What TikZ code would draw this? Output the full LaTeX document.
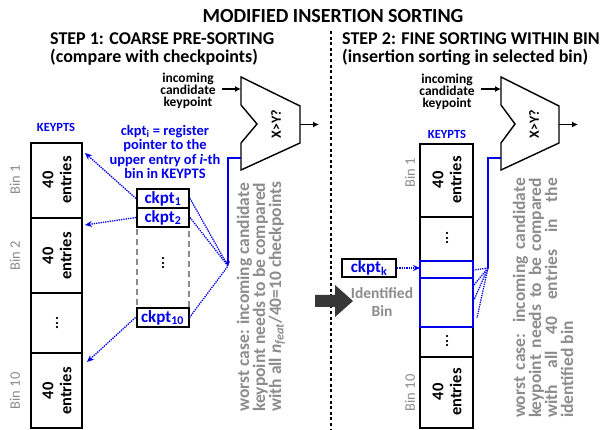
\documentclass[tikz,border=0pt]{standalone}
\usepackage{fontspec}
\setmainfont{Carlito}
\usetikzlibrary{arrows.meta}
\definecolor{myblue}{RGB}{0,0,235}
\definecolor{mygray}{RGB}{140,140,140}
\definecolor{darkarrow}{RGB}{55,55,55}
\tikzset{
  binbox/.style={line width=2.2pt, draw=black},
  comp/.style={line width=1.4pt, draw=black, line join=miter},
  inctext/.style={font=\bfseries\fontsize{13.5}{12.2}\selectfont, align=center},
  entrytext/.style={font=\bfseries\fontsize{16.5}{18}\selectfont, align=center, rotate=90},
  binlabel/.style={font=\fontsize{14.5}{15}\selectfont, text=mygray, rotate=90},
  keypts/.style={font=\bfseries\fontsize{12.5}{13}\selectfont, text=myblue},
  ckptbox/.style={draw=black, line width=2pt, minimum width=52pt, minimum height=19pt, inner sep=0pt, text=myblue, font=\bfseries\fontsize{17}{17}\selectfont},
  bluedot/.style={myblue, line width=1.3pt, densely dotted},
  bluearr/.style={myblue, line width=1.3pt, densely dotted, -{Stealth[length=7pt,width=6pt]}},
  outarrow/.style={line width=1.4pt, -{Latex[length=6pt,width=6pt]}},
  worst/.style={font=\bfseries\fontsize{17.5}{16}\selectfont, text=mygray, rotate=90},
  cmptext/.style={rotate=90, font=\bfseries\fontsize{14}{14}\selectfont},
}
\begin{document}
\begin{tikzpicture}[x=1pt,y=-1pt]
\useasboundingbox (0,0) rectangle (606,430);

% titles
\node[anchor=base, font=\bfseries\fontsize{20}{22}\selectfont] (title) at (333,23) {MODIFIED INSERTION SORTING};
\node[anchor=base west, font=\bfseries\fontsize{18}{20}\selectfont, inner sep=0pt] (s1a) at (50,45) {STEP 1: COARSE PRE-SORTING};
\node[anchor=base west, font=\bfseries\fontsize{18}{20}\selectfont, inner sep=0pt] (s1b) at (50,63) {(compare with checkpoints)};
\node[anchor=base west, font=\bfseries\fontsize{18}{20}\selectfont, inner sep=0pt] (s2a) at (342,45) {STEP 2: FINE SORTING WITHIN BIN};
\node[anchor=base west, font=\bfseries\fontsize{18}{20}\selectfont, inner sep=0pt] (s2b) at (342,63) {(insertion sorting in selected bin)};

% divider
\coordinate (divT) at (331,31);
\coordinate (divB) at (331,430);
\draw[line width=2.2pt, dash pattern=on 3pt off 2.6pt] (divT) -- (divB);

% ---------- LEFT ----------
\draw[comp] (241,77) -- (300,106) -- (300,143) -- (241,170) -- (241,143) -- (257,124) -- (241,105) -- cycle;
\node[cmptext] (xyL) at (276,124) {X>Y?};
\coordinate (cLin) at (241,89);
\coordinate (cLout) at (300,124.5);
\coordinate (cLoutE) at (319,124.5);
\coordinate (cLin2) at (241,158);
\coordinate (cLcorner) at (228,158);
\coordinate (cLhub) at (228,266);
\node[inctext] (incL) at (188,91) {incoming\\candidate\\keypoint};
\coordinate (incLE) at (222,89);
\draw[outarrow] (incLE) -- (cLin);
\draw[outarrow] (cLout) -- (cLoutE);

\node[keypts] (kpL) at (56,127) {KEYPTS};
\draw[binbox] (31,143) rectangle (82,428);
\draw[line width=2pt] (31,218) -- (82,218);
\draw[line width=2pt] (31,293) -- (82,293);
\draw[line width=2pt] (31,353) -- (82,353);
\node[entrytext] (eL1) at (57,180) {40\\entries};
\node[entrytext] (eL2) at (57,256) {40\\entries};
\node[entrytext, font=\bfseries\fontsize{15}{15}\selectfont] (eLd) at (57,323) {...};
\node[entrytext] (eL10) at (57,391) {40\\entries};
\node[binlabel] (bL1) at (15,180) {Bin 1};
\node[binlabel] (bL2) at (15,256) {Bin 2};
\node[binlabel] (bL10) at (15,391) {Bin 10};
\coordinate (tL1) at (85,153);
\coordinate (tL2) at (85,225);
\coordinate (tL10) at (87,362);

\draw[mygray, line width=1.2pt, dash pattern=on 6pt off 4pt] (137,189) rectangle (189,327);
\node[ckptbox] (k1) at (163,198.5) {ckpt\textsubscript{1}};
\node[ckptbox] (k2) at (163,217.5) {ckpt\textsubscript{2}};
\node[ckptbox] (k10) at (162.5,317.5) {ckpt\textsubscript{10}};
\node[rotate=90, font=\bfseries\fontsize{15}{15}\selectfont] (kd) at (163,263) {...};

\node[font=\bfseries\fontsize{14.5}{14.2}\selectfont, text=myblue, align=center] (note) at (165,152) {ckpt\textsubscript{i} = register\\pointer to the\\upper entry of \textit{i}-th\\bin in KEYPTS};

\draw[bluearr] (k1.west) -- (tL1);
\draw[bluearr] (k2.west) -- (tL2);
\draw[bluearr] (k10.west) -- (tL10);
\draw[myblue, line width=1.5pt, -{Stealth[length=5pt,width=4pt]}] (cLin2) -- (cLcorner) -- (cLhub);
\draw[bluedot] (k1.east) -- (cLhub);
\draw[bluedot] (k2.east) -- (cLhub);
\draw[bluedot] (k10.east) -- (cLhub);

\node[worst, align=left] (wL) at (261,296.5) {worst case: incoming candidate\\keypoint needs to be compared\\with all \textit{n}\textsubscript{\textit{feat}}/40=10 checkpoints};

% ---------- RIGHT ----------
\draw[comp] (501,77) -- (559,106) -- (559,143) -- (501,170) -- (501,143) -- (515,124) -- (501,105) -- cycle;
\node[cmptext] (xyR) at (534,124) {X>Y?};
\coordinate (cRin) at (501,89);
\coordinate (cRout) at (559,124.5);
\coordinate (cRoutE) at (578,124.5);
\coordinate (cRin2) at (501,158);
\coordinate (cRcorner) at (488,158);
\coordinate (cRhub) at (488,268);
\node[inctext] (incR) at (447,92) {incoming\\candidate\\keypoint};
\coordinate (incRE) at (481,89);
\draw[outarrow] (incRE) -- (cRin);
\draw[outarrow] (cRout) -- (cRoutE);

\node[keypts] (kpR) at (447,134) {KEYPTS};
\draw[binbox] (420,144) rectangle (473,428);
\draw[line width=2pt] (420,217) -- (473,217);
\draw[line width=2pt] (420,357) -- (473,357);
\node[entrytext] (eR1) at (447,180) {40\\entries};
\node[entrytext, font=\bfseries\fontsize{15}{15}\selectfont] (eRd1) at (447,238) {...};
\node[entrytext, font=\bfseries\fontsize{15}{15}\selectfont] (eRd2) at (447,341) {...};
\node[entrytext] (eR10) at (447,392) {40\\entries};
\node[binlabel] (bR1) at (410,173) {Bin 1};
\node[binlabel] (bR10) at (410,393) {Bin 10};
\draw[myblue, line width=2.4pt] (420,261) rectangle (473,327);
\draw[myblue, line width=1.8pt] (420,278) -- (473,278);

\coordinate (hR1) at (474,270);
\coordinate (hR2) at (474,285);
\coordinate (hR3) at (474,300);
\coordinate (hR4) at (477,318);
\draw[myblue, line width=1.5pt] (cRin2) -- (cRcorner) -- (cRhub);
\draw[bluedot] (cRhub) -- (hR1);
\draw[bluedot] (cRhub) -- (hR2);
\draw[bluedot] (cRhub) -- (hR3);
\draw[bluedot] (cRhub) -- (hR4);

\node[ckptbox, minimum width=54pt, minimum height=18pt] (kk) at (369,268) {ckpt\textsubscript{k}};
\coordinate (binIn) at (420,268);
\draw[bluearr] (kk.east) -- (binIn);
\node[font=\bfseries\fontsize{15.5}{18}\selectfont, text=mygray, align=center] (idb) at (382,302) {Identified\\Bin};
\fill[darkarrow] (315,295) -- (335,295) -- (335,285) -- (353,301) -- (335,317) -- (335,307) -- (315,307) -- cycle;

\node[worst, align=left] (wR) at (543,298) {%
\makebox[240pt][s]{worst case: incoming candidate}\\
\makebox[240pt][s]{keypoint needs to be compared}\\
\makebox[240pt][s]{with all 40 entries in the}\\
identified bin};
\end{tikzpicture}
\end{document}
